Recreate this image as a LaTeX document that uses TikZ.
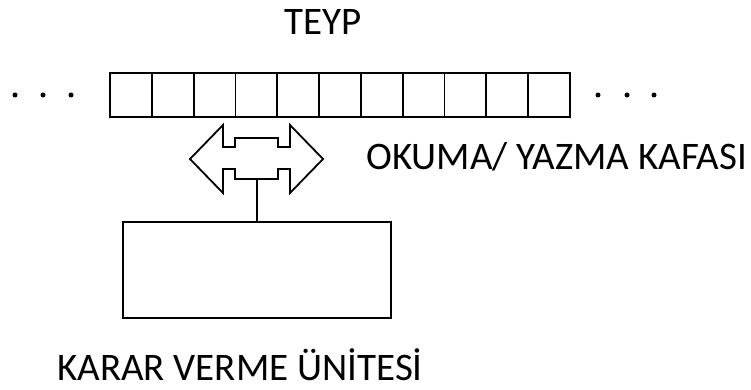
\documentclass[tikz,border=0pt]{standalone}
\usepackage{fontspec}
\setmainfont{Carlito}
\begin{document}
\begin{tikzpicture}[x=1pt,y=-1pt,
  cell/.style={draw, line width=1.8pt, minimum width=41.8pt, minimum height=44pt, inner sep=0pt, outer sep=0pt},
  unitbox/.style={draw, line width=1.8pt, minimum width=268pt, minimum height=96pt, inner sep=0pt},
  lbl/.style={inner sep=0pt, anchor=base west, font=\fontsize{39}{44}\selectfont},
  dot/.style={circle, fill=black, minimum size=5pt, inner sep=0pt},
  shapeline/.style={line width=1.8pt, line join=miter}]
\useasboundingbox (0,0) rectangle (751,390);
% tape cells
\foreach \i in {0,...,10} {
  \node[cell] (c\i) at ({110+20.9+41.8*\i},95) {};
}
% dots
\foreach \j/\xx in {1/15,2/43,3/71,4/598,5/627,6/654} {
  \node[dot] (d\j) at (\xx,95) {};
}
% labels
\node[lbl, anchor=base] (teyp) at (323,35) {TEYP};
\node[lbl] (head) at (366,169) {OKUMA/ YAZMA KAFASI};
\node[lbl] (unit) at (57,380) {KARAR VERME ÜNİTESİ};
% read/write head (double arrow)
\draw[shapeline] (190,159) -- (223,125) -- (223,147) -- (235,147) -- (235,138) -- (278,138) -- (278,147) -- (290,147) -- (290,125) -- (323,159)
  -- (290,193) -- (290,169) -- (278,169) -- (278,179) -- (235,179) -- (235,169) -- (223,169) -- (223,193) -- cycle;
\coordinate (hb) at (257,179);
% decision unit
\node[unitbox] (box) at (257,270) {};
\draw[line width=1.8pt] (hb) -- (box.north);
\end{tikzpicture}
\end{document}
